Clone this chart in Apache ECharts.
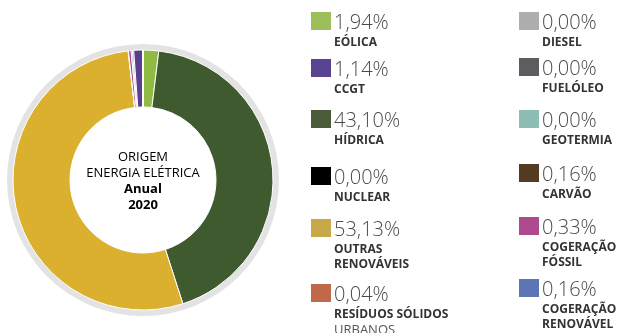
<!DOCTYPE html>
<html>
<head>
<meta charset="utf-8">
<script src="https://cdn.jsdelivr.net/npm/echarts@6/dist/echarts.min.js"></script>
<style>
html,body{margin:0;padding:0;background:#fff;}
#chart{width:621px;height:333px;}
</style>
</head>
<body>
<div id="chart"></div>
<script>
// ---- data ----
var names = ['Eólica','CCGT','Hídrica','Nuclear','Outras renováveis','Resíduos sólidos urbanos',
             'Diesel','Fuelóleo','Geotermia','Carvão','Cogeração fóssil','Cogeração renovável'];
var values = [1.94, 1.14, 43.10, 0.00, 53.13, 0.04, 0.00, 0.00, 0.00, 0.16, 0.33, 0.16];
var boldLines = [['EÓLICA'],['CCGT'],['HÍDRICA'],['NUCLEAR'],['OUTRAS','RENOVÁVEIS'],['RESÍDUOS SÓLIDOS'],
                 ['DIESEL'],['FUELÓLEO'],['GEOTERMIA'],['CARVÃO'],['COGERAÇÃO','FÓSSIL'],['COGERAÇÃO','RENOVÁVEL']];
var plainLines = [[],[],[],[],[],['URBANOS'],[],[],[],[],[],[]];
// order of the slices around the ring (clockwise from 12 o'clock)
var pieOrder = ['Eólica','Hídrica','Outras renováveis','Resíduos sólidos urbanos','Cogeração fóssil',
                'Cogeração renovável','Carvão','CCGT','Nuclear','Diesel','Fuelóleo','Geotermia'];
var centerLines = ['ORIGEM','ENERGIA ELÉTRICA'];
var centerBold = ['Anual','2020'];

// ---- styles ----
var pieColors = {'Eólica':'#8fbb45','CCGT':'#5a3f8f','Hídrica':'#3f5a2f','Nuclear':'#000000',
  'Outras renováveis':'#dab02e','Resíduos sólidos urbanos':'#c0694a','Diesel':'#aeaeb0',
  'Fuelóleo':'#5c5d61','Geotermia':'#8dbdb3','Carvão':'#553a22','Cogeração fóssil':'#b04a8e',
  'Cogeração renovável':'#5e75b5'};
var legendColors = {'Eólica':'#9cbf5b','CCGT':'#59428f','Hídrica':'#4a5b39','Nuclear':'#000000',
  'Outras renováveis':'#c9a84a','Resíduos sólidos urbanos':'#c0694a','Diesel':'#aeaeb0',
  'Fuelóleo':'#5c5d61','Geotermia':'#8dbdb3','Carvão':'#553a22','Cogeração fóssil':'#b04a8e',
  'Cogeração renovável':'#5e75b5'};
// legend box positions (left, box top)
var legendLeft = [309,309,309,309,309,309,517,517,517,517,517,517];
var legendBoxTop = [11,58,109,166,218,283,11,57,109,163,216,278];

var P_LH = 25, N_LH = 15, BOX_H = 20;
function fmtPct(v){ return v.toFixed(2).replace('.',',') + '%'; }

var legends = names.map(function(n,i){
  var k = boldLines[i].length + plainLines[i].length;
  var hs = 4 + N_LH*k;
  var total = hs + P_LH + N_LH*k;
  var c = legendBoxTop[i] + BOX_H/2;
  var txt = '{s|}\n{p|' + fmtPct(values[i]) + '}';
  boldLines[i].forEach(function(l){ txt += '\n{n|' + l + '}'; });
  plainLines[i].forEach(function(l){ txt += '\n{r|' + l + '}'; });
  return {
    left: legendLeft[i], top: c - total/2, padding: 0,
    icon: 'rect', itemWidth: 22, itemHeight: BOX_H, selectedMode: false,
    data: [{name: n, itemStyle: {color: legendColors[n]}}],
    formatter: (function(t){ return function(){ return t; }; })(txt),
    textStyle: {
      padding: [0,0,0,-3],
      rich: {
        s: {height: hs, lineHeight: hs, fontSize: 1},
        p: {fontSize: 20, lineHeight: P_LH, fontFamily: 'Open Sans', fontWeight: 300, color: '#4a4a4a'},
        n: {fontSize: 12, lineHeight: N_LH, fontFamily: 'Open Sans', fontWeight: 'bold', color: '#333333'},
        r: {fontSize: 13, lineHeight: N_LH, fontFamily: 'Open Sans', color: '#555555'}
      }
    }
  };
});

var pieData = pieOrder.map(function(n){
  return {name: n, value: values[names.indexOf(n)], itemStyle: {color: pieColors[n]}};
});

var centerText = centerLines.map(function(l){ return '{a|' + l + '}'; })
  .concat(centerBold.map(function(l){ return '{b|' + l + '}'; })).join('\n');

var chart = echarts.init(document.getElementById('chart'), null, {renderer: 'canvas'});
chart.setOption({
  animation: false,
  backgroundColor: '#ffffff',
  legend: legends,
  series: [
    {
      type: 'pie', silent: true, center: [143, 180], radius: [125, 136],
      label: {show: false}, labelLine: {show: false}, z: 1,
      data: [{name: '_ring', value: 1, itemStyle: {color: '#e3e3e3'}}]
    },
    {
      type: 'pie', center: [143, 180], radius: [73, 130], startAngle: 90, clockwise: true,
      avoidLabelOverlap: false, label: {show: false}, labelLine: {show: false}, z: 2,
      itemStyle: {borderColor: '#ffffff', borderWidth: 1},
      emphasis: {disabled: true},
      data: pieData
    }
  ],
  graphic: [{
    type: 'text', x: 143, y: 181, z: 10,
    style: {
      text: centerText, align: 'center', verticalAlign: 'middle',
      rich: {
        a: {fontSize: 13, lineHeight: 16, fontFamily: 'Open Sans', color: '#3d4a36', align: 'center'},
        b: {fontSize: 13, lineHeight: 16, fontFamily: 'Open Sans', fontWeight: 'bold', color: '#24341b', align: 'center'}
      }
    }
  }]
});
</script>
</body>
</html>
